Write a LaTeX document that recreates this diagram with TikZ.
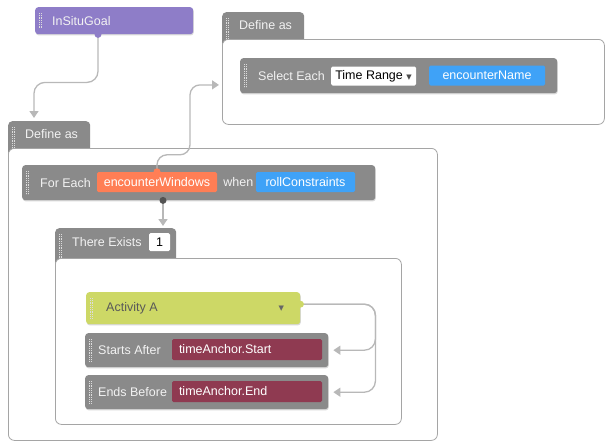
\documentclass[tikz,border=0pt]{standalone}
\usepackage{fontspec}
\setmainfont{Liberation Sans}
\newfontfamily\symfont{DejaVu Sans}
\usetikzlibrary{positioning,arrows.meta,shadows}

\definecolor{blockgray}{HTML}{8A8A8A}
\definecolor{goalpurple}{HTML}{8E7DC8}
\definecolor{slotorange}{HTML}{FF7E55}
\definecolor{slotblue}{HTML}{3FA2F7}
\definecolor{slotred}{HTML}{8F3A51}
\definecolor{actgreen}{HTML}{CDD866}
\definecolor{linkgray}{HTML}{B8B8B8}
\definecolor{panelline}{HTML}{A5A5A5}
\definecolor{labelwhite}{HTML}{F2F2F2}

\tikzset{
  every node/.style={font=\fontsize{12.5}{14}\selectfont},
  block/.style={anchor=north west, fill=blockgray, rounded corners=3pt, inner sep=0pt,
    drop shadow={shadow xshift=0.6pt, shadow yshift=-1.2pt, opacity=0.3}},
  tab/.style={anchor=north west, fill=blockgray, rounded corners=4pt, inner sep=0pt},
  panel/.style={anchor=north west, fill=white, draw=panelline, line width=0.8pt,
    rounded corners=6pt, inner sep=0pt},
  blocktext/.style={anchor=west, text=labelwhite, inner sep=0pt},
  slot/.style={text=white, rounded corners=1.5pt, inner sep=0pt, minimum height=20pt},
  choice/.style={fill=white, text=black, rounded corners=1.5pt, inner sep=0pt, minimum height=19pt},
  link/.style={draw=linkgray, line width=1.3pt, rounded corners=11pt,
    -{Triangle[width=9pt,length=7pt]}},
  gripline/.style={draw=white!70!blockgray, line width=0.7pt, dash pattern=on 0.7pt off 1.1pt},
  bump/.style={radius=3.5pt},
}

% dotted drag handle on the left edge of a block
\newcommand\gripmarks[1]{%
  \draw[gripline] ([xshift=4pt,yshift=-6pt]#1.north west) -- ([xshift=4pt,yshift=6pt]#1.south west);
  \draw[gripline] ([xshift=6pt,yshift=-6pt]#1.north west) -- ([xshift=6pt,yshift=6pt]#1.south west);}

\begin{document}
\begin{tikzpicture}[x=1pt,y=-1pt]
\useasboundingbox (0,0) rectangle (606,442);

% goal
\node[block, fill=goalpurple, minimum width=158pt, minimum height=27pt] (goal) at (35,7) {};
\gripmarks{goal}
\node[blocktext, right=17pt of goal.west] (goaltext) {InSituGoal};

% outer define
\node[tab, minimum width=82pt, minimum height=40pt] (defAtab) at (8,121) {};
\gripmarks{defAtab}
\node[blocktext] (defAtext) at ([xshift=17pt,yshift=-13.5pt]defAtab.north west) {Define as};
\node[panel, minimum width=429pt, minimum height=292pt] (defA) at (8,148) {};

% right define
\node[tab, minimum width=82pt, minimum height=40pt] (defBtab) at (222,12) {};
\gripmarks{defBtab}
\node[blocktext] (defBtext) at ([xshift=17pt,yshift=-13.5pt]defBtab.north west) {Define as};
\node[panel, minimum width=382pt, minimum height=85pt] (defB) at (222,39) {};

\node[block, minimum width=317pt, minimum height=35pt] (select) at (240,58) {};
\gripmarks{select}
\node[blocktext, right=18pt of select.west] (selecttext) {Select Each};
\node[choice, minimum width=85pt] (range) at (373.5,76) {Time Range {\symfont\fontsize{7}{8}\selectfont\color{black!70}▼}};
\node[slot, fill=slotblue, minimum width=116pt] (name) at (487,75.5) {encounterName};

% for each
\node[block, minimum width=353pt, minimum height=35pt] (foreach) at (22,165) {};
\gripmarks{foreach}
\node[blocktext, right=18pt of foreach.west] (foreachtext) {For Each};
\node[slot, fill=slotorange, minimum width=120pt] (windows) at (157,182) {encounterWindows};
\node[blocktext, right=6pt of windows.east] (whentext) {when};
\node[slot, fill=slotblue, minimum width=99pt] (roll) at (305.5,182) {rollConstraints};

% there exists
\node[tab, minimum width=121pt, minimum height=40pt] (existstab) at (55,228) {};
\gripmarks{existstab}
\node[blocktext] (existstext) at ([xshift=17pt,yshift=-14.5pt]existstab.north west) {There Exists};
\node[choice, minimum width=21pt, minimum height=18pt] (count) at (159.5,242) {1};
\node[panel, minimum width=346pt, minimum height=166pt] (exists) at (55,258) {};

% activity and its constraints
\node[block, fill=actgreen, minimum width=214pt, minimum height=32pt] (activity) at (86,292) {};
\gripmarks{activity}
\node[blocktext, text=black!65, right=20pt of activity.west] (activitytext) {Activity A};
\node[text=black!60, inner sep=0pt] (activitymenu) at ([xshift=-19pt]activity.east) {\symfont\fontsize{7}{8}\selectfont ▼};

\node[block, minimum width=243pt, minimum height=34pt] (starts) at (85,333) {};
\gripmarks{starts}
\node[blocktext, right=13pt of starts.west] (startstext) {Starts After};
\node[slot, fill=slotred, text width=136pt, inner xsep=7pt, minimum height=21pt, align=left] (startanchor) at (247,349.5) {timeAnchor.Start};

\node[block, minimum width=243pt, minimum height=34pt] (ends) at (85,375) {};
\gripmarks{ends}
\node[blocktext, right=13pt of ends.west] (endstext) {Ends Before};
\node[slot, fill=slotred, text width=136pt, inner xsep=7pt, minimum height=21pt, align=left] (endanchor) at (247,391.5) {timeAnchor.End};

% connectors
\draw[link] ([xshift=63pt]goal.south west) -- ++(0,48) -| ([xshift=26pt,yshift=3pt]defAtab.north west);
\draw[link, rounded corners=10pt] (windows.north) -- ++(0,-17) -- ++(33,0) |- ([xshift=-3pt,yshift=-3pt]defB.west);
\draw[link] ([xshift=141pt]foreach.south west) -- ([xshift=108pt,yshift=2pt]existstab.north west);
\draw[link] ([yshift=4pt]activity.east) -| ([xshift=47pt]starts.east) -- ([xshift=5pt]starts.east);
\draw[link] ([yshift=4pt]activity.east) -| ([xshift=47pt]ends.east) -- ([xshift=5pt]ends.east);

% bumps
\fill[goalpurple] ([xshift=63pt]goal.south west) circle[bump];
\fill[slotorange] (windows.north) circle[bump];
\fill[blockgray!60!black] ([xshift=141pt]foreach.south west) circle[bump];
\fill[actgreen] ([yshift=4pt]activity.east) circle[bump];
\end{tikzpicture}
\end{document}
